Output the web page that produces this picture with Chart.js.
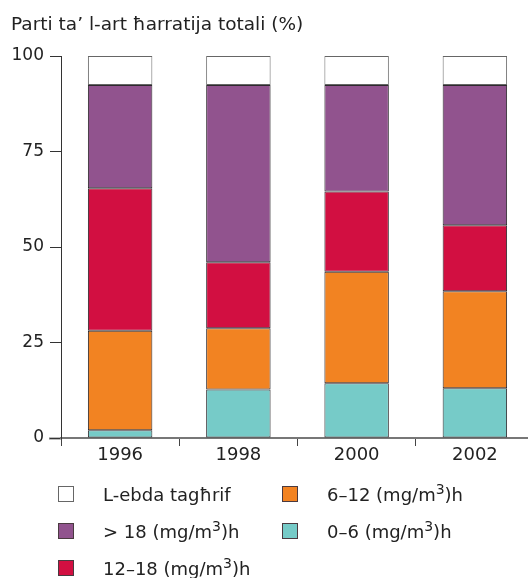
<!DOCTYPE html>
<html>
<head>
<meta charset="utf-8">
<script src="https://cdn.jsdelivr.net/npm/chart.js@4"></script>
<style>
    html, body { margin: 0; padding: 0; background: #fff; overflow: hidden; }
    #wrap { width: 534px; height: 578px; }
</style>
</head>
<body>
<div id="wrap"><canvas id="chart" width="534" height="578"></canvas></div>
<script>
const years = ['1996', '1998', '2000', '2002'];
const yTicks = [0, 25, 50, 75, 100];

const band0to6 = [2.0, 12.7, 14.3, 13.0];
const band6to12 = [26.1, 16.0, 29.2, 25.4];
const band12to18 = [37.3, 17.3, 21.0, 17.3];
const bandOver18 = [27.0, 46.4, 27.9, 36.7];
const noData = [7.6, 7.6, 7.6, 7.6];

const titleText = 'Parti ta\u2019 l-art \u0127arratija totali (%)';
const FONT = '"DejaVu Sans", Verdana, sans-serif';

const mkSet = (label, data, color, border) => ({
    label,
    data,
    backgroundColor: color,
    borderColor: border || '#2e2a2e',
    borderWidth: 1,
    borderSkipped: false,
    barPercentage: 0.545,
    categoryPercentage: 1
});

// bottom to top in the stack; labels use ^ before the superscript part
const datasets = [
    mkSet('0\u20136 (mg/m^3)h', band0to6, '#76cbc8'),
    mkSet('6\u201312 (mg/m^3)h', band6to12, '#f28322'),
    mkSet('12\u201318 (mg/m^3)h', band12to18, '#d20f41'),
    mkSet('> 18 (mg/m^3)h', bandOver18, '#91538e'),
    mkSet('L-ebda tag\u0127rif', noData, '#ffffff', '#666666')
];

// legend: which dataset goes in which slot (column-major, 3 rows)
const legendSlots = [
    { ds: 4, col: 0, row: 0 },
    { ds: 3, col: 0, row: 1 },
    { ds: 2, col: 0, row: 2 },
    { ds: 1, col: 1, row: 0 },
    { ds: 0, col: 1, row: 1 }
];

const drawLabel = (ctx, text, x, y) => {
    const parts = text.split('^');
    ctx.font = '18px ' + FONT;
    ctx.fillText(parts[0], x, y);
    if (parts.length < 2) return;
    let cx = x + ctx.measureText(parts[0]).width;
    ctx.font = '14px ' + FONT;
    ctx.fillText(parts[1][0], cx, y - 7);
    cx += ctx.measureText(parts[1][0]).width;
    ctx.font = '18px ' + FONT;
    ctx.fillText(parts[1].slice(1), cx, y);
};

const extras = {
    id: 'extras',
    beforeDraw(chart) {
        // x axis line runs a little left past the y axis
        const ctx = chart.ctx;
        const a = chart.chartArea;
        ctx.save();
        ctx.strokeStyle = '#777';
        ctx.lineWidth = 2;
        ctx.beginPath();
        ctx.moveTo(49, a.bottom + 0.5);
        ctx.lineTo(a.left, a.bottom + 0.5);
        ctx.stroke();
        ctx.restore();
    },
    afterDraw(chart) {
        const ctx = chart.ctx;
        ctx.save();
        ctx.fillStyle = '#222';
        ctx.font = '18.5px ' + FONT;
        ctx.textBaseline = 'alphabetic';
        ctx.fillText(titleText, 11, 30);

        legendSlots.forEach(s => {
            const d = chart.data.datasets[s.ds];
            const bx = 58 + s.col * 224;
            const cy = 494 + s.row * 37;
            ctx.fillStyle = d.backgroundColor;
            ctx.fillRect(bx, cy - 8, 16, 16);
            ctx.strokeStyle = s.ds === 4 ? '#666' : '#4a3a40';
            ctx.lineWidth = 1;
            ctx.strokeRect(bx + 0.5, cy - 7.5, 15, 15);
            ctx.fillStyle = '#222';
            drawLabel(ctx, d.label, bx + 45, cy + 7);
        });
        ctx.restore();
    }
};

new Chart(document.getElementById('chart'), {
    type: 'bar',
    data: { labels: years, datasets },
    options: {
        responsive: false,
        animation: false,
        layout: { padding: { top: 56, right: 0, bottom: 110, left: 0 } },
        plugins: {
            legend: { display: false },
            tooltip: { enabled: false }
        },
        scales: {
            x: {
                stacked: true,
                offset: true,
                afterFit: s => { s.height = 30; },
                grid: {
                    offset: true,
                    drawOnChartArea: false,
                    tickLength: 8,
                    color: '#444',
                    lineWidth: 1
                },
                border: { color: '#777', width: 2 },
                ticks: {
                    color: '#222',
                    font: { family: FONT, size: 18 },
                    padding: -1
                }
            },
            y: {
                stacked: true,
                min: 0,
                max: 100,
                afterFit: s => { s.width = 61; },
                afterBuildTicks: s => { s.ticks = yTicks.map(v => ({ value: v })); },
                grid: {
                    drawOnChartArea: false,
                    tickLength: 11,
                    color: '#333',
                    lineWidth: 1
                },
                border: { color: '#333', width: 1 },
                ticks: {
                    color: '#222',
                    font: { family: FONT, size: 17 },
                    padding: 6
                }
            }
        }
    },
    plugins: [extras]
});
</script>
</body>
</html>
